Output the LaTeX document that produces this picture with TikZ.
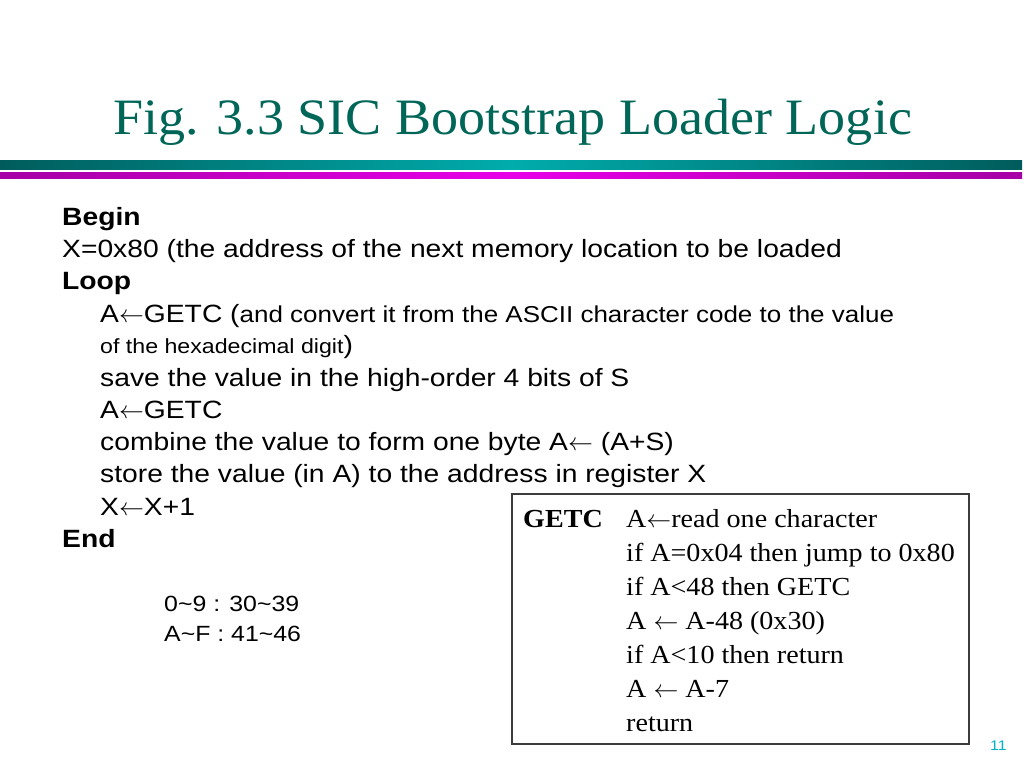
\documentclass[tikz,border=0pt]{standalone}
\usepackage{fontspec}
\setmainfont{Liberation Serif}
\newfontfamily\titlefont[FakeStretch=1.06]{Liberation Serif}
\newfontfamily\bodyfont[FakeStretch=1.13]{Liberation Sans}
\newfontfamily\boxfont[FakeStretch=1.08]{Liberation Serif}
\definecolor{titleteal}{RGB}{0,102,88}
\definecolor{tealdark}{RGB}{0,92,92}
\definecolor{teallight}{RGB}{0,172,172}
\definecolor{magdark}{RGB}{165,0,165}
\definecolor{maglight}{RGB}{232,0,232}
\definecolor{pagenum}{RGB}{0,180,200}
\definecolor{boxline}{RGB}{60,60,60}
\begin{document}
\begin{tikzpicture}[x=1pt,y=-1pt,
  body/.style={anchor=base west,inner sep=0pt,font=\bodyfont\fontsize{25}{29}\selectfont},
  bodybold/.style={anchor=base west,inner sep=0pt,font=\bodyfont\bfseries\fontsize{25}{29}\selectfont},
  small/.style={anchor=base west,inner sep=0pt,font=\bodyfont\fontsize{22}{26}\selectfont},
  boxtxt/.style={anchor=base west,inner sep=0pt,font=\boxfont\fontsize{26}{30}\selectfont}]
\useasboundingbox (0,0) rectangle (1024,768);
\fill[white] (0,0) rectangle (1024,768);
% title
\node[anchor=base west,inner sep=0pt,text=titleteal,font=\titlefont\fontsize{51}{58}\selectfont] (title) at (113,134) {Fig. 3.3 SIC Bootstrap Loader Logic};
% bars
\shade[left color=tealdark,right color=tealdark,middle color=teallight] (0,160) rectangle (1022,169);
\shade[left color=magdark,right color=magdark,middle color=maglight] (0,172) rectangle (1022,178);
% body text
\node[bodybold] (l1) at (62,225) {Begin};
\node[body] (l2) at (62,257) {X=0x80 (the address of the next memory location to be loaded};
\node[bodybold] (l3) at (62,289) {Loop};
\node[body] (l4) at (100,322) {A$\leftarrow$GETC (\fontsize{23}{27}\selectfont and convert it from the ASCII character code to the value};
\node[small,font=\bodyfont\fontsize{20.5}{24}\selectfont] (l5) at (100,353) {of the hexadecimal digit\fontsize{25}{29}\selectfont)};
\node[body] (l6) at (100,386) {save the value in the high-order 4 bits of S};
\node[body] (l7) at (100,418) {A$\leftarrow$GETC};
\node[body] (l8) at (100,450) {combine the value to form one byte A$\leftarrow$ (A+S)};
\node[body] (l9) at (100,482) {store the value (in A) to the address in register X};
\node[body] (l10) at (100,515) {X$\leftarrow$X+1};
\node[bodybold] (l11) at (62,547) {End};
\node[small] (c1) at (164,611) {0\textasciitilde 9 : 30\textasciitilde 39};
\node[small] (c2) at (164,641) {A\textasciitilde F : 41\textasciitilde 46};
% GETC box
\draw[boxline,line width=1.5pt] (512,494) rectangle (969,744);
\node[boxtxt,font=\boxfont\bfseries\fontsize{26}{30}\selectfont] (g0) at (523,527) {GETC};
\node[boxtxt] (g1) at (626,527) {A$\leftarrow$read one character};
\node[boxtxt] (g2) at (626,561) {if A=0x04 then jump to 0x80};
\node[boxtxt] (g3) at (626,595) {if A<48 then GETC};
\node[boxtxt] (g4) at (626,629) {A $\leftarrow$ A-48 (0x30)};
\node[boxtxt] (g5) at (626,663) {if A<10 then return};
\node[boxtxt] (g6) at (626,697) {A $\leftarrow$ A-7};
\node[boxtxt] (g7) at (626,731) {return};
% page number
\node[anchor=base west,inner sep=0pt,text=pagenum,font=\bodyfont\fontsize{14}{16}\selectfont] (pg) at (990,750) {11};
\end{tikzpicture}
\end{document}
